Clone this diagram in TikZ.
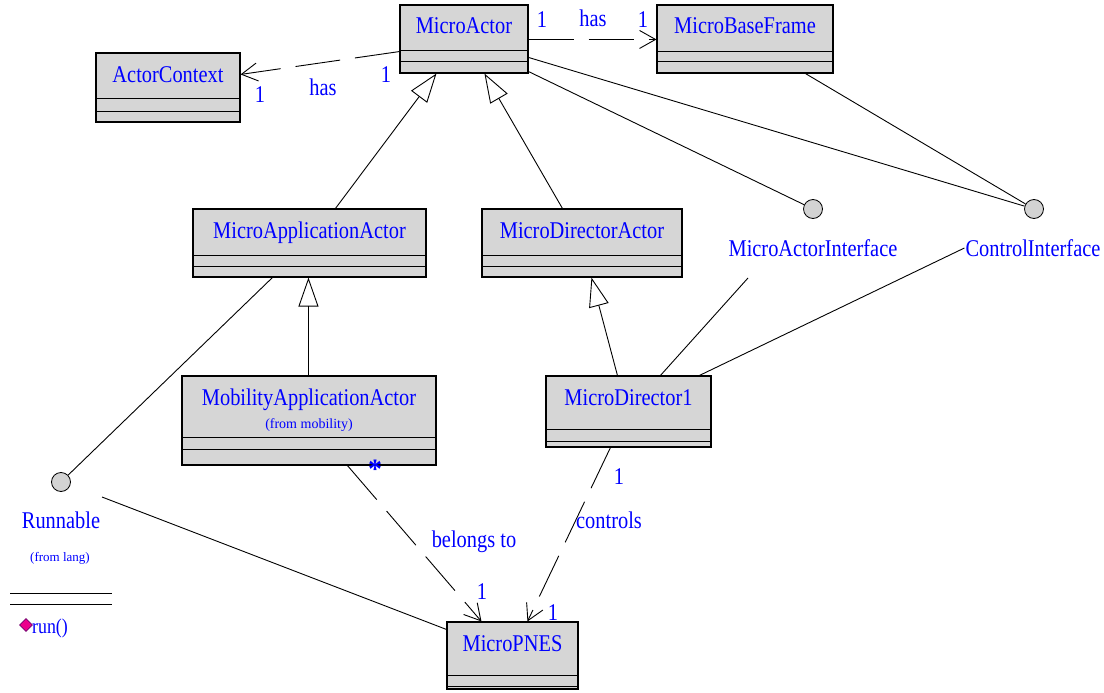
\documentclass[tikz,border=0pt]{standalone}
\usepackage{fontspec}
\setmainfont{Liberation Serif}
\newfontfamily\umlfont[FakeStretch=0.85]{Liberation Serif}
\usetikzlibrary{calc, positioning}
\usetikzlibrary{arrows.meta}

\definecolor{boxgray}{RGB}{214,214,214}
\definecolor{ifacegray}{RGB}{211,211,211}
\definecolor{iconedge}{RGB}{110,0,110}

\tikzset{
  classbox/.style={draw=black, line width=1.1pt, fill=boxgray, inner sep=0pt},
  classname/.style={anchor=base, inner sep=0pt, text=blue, font=\umlfont\fontsize{24}{28}\selectfont},
  umltext/.style={text=blue, inner sep=1pt, font=\umlfont\fontsize{24}{28}\selectfont},
  smalltext/.style={text=blue, inner sep=0pt, font=\fontsize{14}{16}\selectfont},
  iface/.style={circle, draw=black, fill=ifacegray, line width=0.8pt, minimum size=19pt, inner sep=0pt},
  runicon/.style={rectangle, rotate=45, minimum size=9pt, inner sep=0pt, fill=magenta, draw=iconedge, line width=0.7pt},
  assoc/.style={line width=0.9pt, dash pattern=on 45pt off 15pt, -{Straight Barb[length=16pt,width=18pt]}},
  inherit/.style={line width=0.9pt, -{Triangle[open,length=29pt,width=20pt]}},
  link/.style={line width=0.9pt},
}

% class box: name, left, top, right, bottom, compartment lines, title
\newcommand{\umlclass}[8]{%
  \node[classbox, minimum width={#4-#2}, minimum height={#5-#3}] (#1) at ({(#2+#4)/2},{(#3+#5)/2}) {};
  \draw[line width=1pt] (#2,#6) -- (#4,#6) (#2,#7) -- (#4,#7);
  \draw[line width=2pt] (#2,#5) -- (#4,#5);
  \node[classname] (#1-name) at ({(#2+#4)/2},{#3+29}) {#8};
}

\begin{document}
\begin{tikzpicture}[x=1pt,y=-1pt,line cap=butt,line join=miter]
\useasboundingbox (0,0) rectangle (1104,693);

% classes
\umlclass{actor}{400}{5}{528}{73}{51}{62}{MicroActor}
\umlclass{ctx}{96}{53}{240}{122}{99}{112}{ActorContext}
\umlclass{frame}{657}{5}{833}{73}{52}{62}{MicroBaseFrame}
\umlclass{app}{193}{209}{426}{277}{255}{266}{MicroApplicationActor}
\umlclass{dir}{482}{209}{682}{277}{255}{266}{MicroDirectorActor}
\umlclass{mob}{182}{376}{436}{465}{437}{449}{MobilityApplicationActor}
\umlclass{dir1}{546}{376}{711}{447}{429}{441}{MicroDirector1}
\umlclass{pnes}{447}{622}{578}{689}{675}{686}{MicroPNES}
\node[smalltext] (mob-pkg) at (309,425) {(from mobility)};

% interfaces
\node[iface] (runnable) at (61,482) {};
\node[iface] (actorif) at (813,209) {};
\node[iface] (ctrlif) at (1034,209) {};
\node[umltext] (runnable-name) at (61,520) {Runnable};
\node[smalltext, font=\fontsize{13}{15}\selectfont] (runnable-pkg) at (60,558) {(from lang)};
\draw[line width=1pt] (10,593) -- (112,593) (10,604) -- (112,604);
\node[runicon] (run-icon) at (26,625) {};
\node[umltext, anchor=west, inner sep=0pt, font=\umlfont\fontsize{21}{24}\selectfont] (run-op) at (32,628) {run()};
\node[umltext] (actorif-name) at (813,248) {MicroActorInterface};
\node[umltext] (ctrlif-name) at (1033,248) {ControlInterface};
\coordinate (actorif-foot) at (748,278);
\coordinate (runnable-side) at (102,497);

% generalisation
\draw[inherit] ($(app.north west)+(143,0)$) -- ($(actor.south west)+(37,0)$);
\draw[inherit] ($(dir.north west)+(81,0)$) -- ($(actor.south west)+(85,0)$);
\draw[inherit] ($(mob.north west)+(127,0)$) -- ($(app.south west)+(116,0)$);
\draw[inherit] ($(dir1.north west)+(72,0)$) -- ($(dir.south west)+(110,0)$);

% realisation
\draw[link] ($(actor.north east)+(0,53)$) -- (ctrlif);
\draw[link] ($(actor.south east)+(0,-2)$) -- (actorif);
\draw[link] ($(frame.south west)+(149,0)$) -- (ctrlif);
\draw[link] ($(dir1.north west)+(115,0)$) -- (actorif-foot);
\draw[link] ($(dir1.north west)+(154,0)$) -- (ctrlif-name.west);
\draw[link] ($(app.south west)+(80,0)$) -- (runnable);
\draw[link] (runnable-side) -- ($(pnes.north west)+(0,8)$);

% associations
\draw[assoc] ($(actor.south west)+(0,-22)$) -- ($(ctx.north east)+(0,22)$);
\draw[assoc] ($(actor.north east)+(0,35)$) -- ($(frame.north west)+(0,35)$);
\draw[assoc] ($(mob.south west)+(166,0)$) -- ($(pnes.north west)+(35,0)$);
\draw[assoc] ($(dir1.south west)+(65,0)$) -- ($(pnes.north west)+(81,0)$);

% roles and multiplicities
\node[umltext] (has-ctx) at (323,87) {has};
\node[umltext] (ctx-m1) at (386,75) {1};
\node[umltext] (ctx-m2) at (260,95) {1};
\node[umltext] (frame-m1) at (542,20) {1};
\node[umltext] (has-frame) at (593,18) {has};
\node[umltext] (frame-m2) at (643,20) {1};
\node[umltext, font=\bfseries\fontsize{28}{30}\selectfont] (mob-many) at (375,469) {*};
\node[umltext, anchor=base] (belongs) at (474,547) {belongs to};
\node[umltext] (pnes-m1) at (482,592) {1};
\node[umltext] (dir1-m1) at (619,477) {1};
\node[umltext] (controls) at (609,520) {controls};
\node[umltext] (pnes-m2) at (553,613) {1};
\end{tikzpicture}
\end{document}
